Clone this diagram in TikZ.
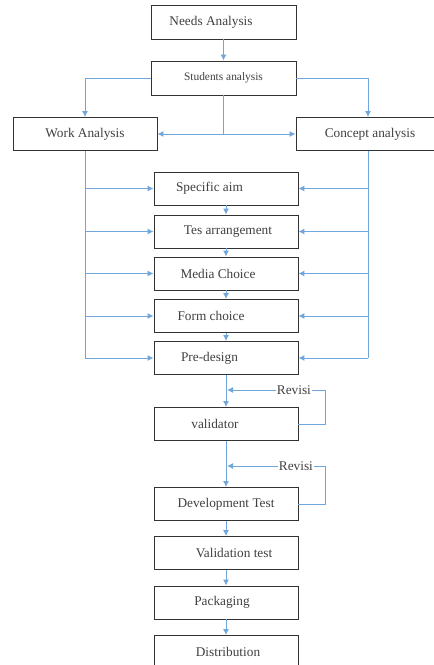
\documentclass[tikz,border=0pt]{standalone}
\usepackage{fontspec}
\setmainfont{Liberation Serif}
\usetikzlibrary{arrows.meta}
\definecolor{lineblue}{RGB}{112,166,220}
\definecolor{boxtext}{RGB}{64,64,64}
\begin{document}
\begin{tikzpicture}[x=1pt,y=-1pt,
    box/.style={draw=black!80,line width=0.9pt,minimum width=144pt,minimum height=33pt,inner sep=0pt,
      text=boxtext,font=\fontsize{13.3}{15}\selectfont},
    link/.style={draw=lineblue,line width=1pt},
    arr/.style={link,-{Latex[length=6pt,width=6pt]}}]
    \clip (0,0) rectangle (434,665);
    \fill[white] (0,0) rectangle (434,665);
    % top part
    \node[box,minimum width=145pt,minimum height=34pt] (needs) at (223.5,22) {\hspace*{-25pt}Needs Analysis};
    \node[box,minimum width=145pt,minimum height=34pt,font=\fontsize{11.4}{13}\selectfont] (students) at (223.5,78) {Students analysis};
    \node[box] (work) at (85,134) {Work Analysis};
    \node[box] (concept) at (368,134) {\hspace*{4pt}Concept analysis};
    \coordinate (split) at (223.5,134);
    \draw[arr] (needs) -- (students);
    \draw[arr] (students.west) -| (work.north);
    \draw[arr] (students.east) -| (concept.north);
    \draw[link] (students.south) -- (split);
    \draw[arr] (split) -- (work.east);
    \draw[arr] (split) -- (concept.east -| concept.west);
    % middle boxes
    \node[box] (aim) at (226,188.5) {\hspace*{-33pt}Specific aim};
    \node[box] (tes) at (226,231.5) {\hspace*{4pt}Tes arrangement};
    \node[box] (media) at (226,273.5) {\hspace*{-16pt}Media Choice};
    \node[box] (form) at (226,316) {\hspace*{-30pt}Form choice};
    \node[box] (pre) at (226,358) {\hspace*{-33pt}Pre-design};
    \draw[link] (work.south) -- (work.south |- pre.west);
    \draw[link] (concept.south) -- (concept.south |- pre.east);
    \foreach \n in {aim,tes,media,form,pre}{
      \draw[arr] (work.south |- \n.west) -- (\n.west);
      \draw[arr] (concept.south |- \n.east) -- (\n.east);
    }
    \draw[arr] (aim) -- (tes);
    \draw[arr] (tes) -- (media);
    \draw[arr] (media) -- (form);
    \draw[arr] (form) -- (pre);
    % lower part
    \node[box] (validator) at (226,424) {\hspace*{-22pt}validator};
    \node[box] (devtest) at (226,504) {Development Test};
    \node[box] (valtest) at (226,553) {\hspace*{16pt}Validation test};
    \node[box] (packing) at (226,602.5) {\hspace*{-8pt}Packaging};
    \node[box] (distrib) at (226,652) {\hspace*{4pt}Distribution};
    \coordinate (rev1) at (227,390);
    \coordinate (rev2) at (227,466);
    \draw[arr] (pre) -- (validator);
    \draw[arr] (validator.east) -- ++(27,0) |- node[pos=0.66,fill=white,inner sep=1pt,text=boxtext,
      font=\fontsize{13.3}{15}\selectfont]{Revisi} (rev1);
    \draw[arr] (validator) -- (devtest);
    \draw[arr] (devtest.east) -- ++(27,0) |- node[pos=0.65,fill=white,inner sep=1pt,text=boxtext,
      font=\fontsize{13.3}{15}\selectfont]{Revisi} (rev2);
    \draw[arr] (devtest) -- (valtest);
    \draw[arr] (valtest) -- (packing);
    \draw[arr] (packing) -- (distrib);
\end{tikzpicture}
\end{document}
